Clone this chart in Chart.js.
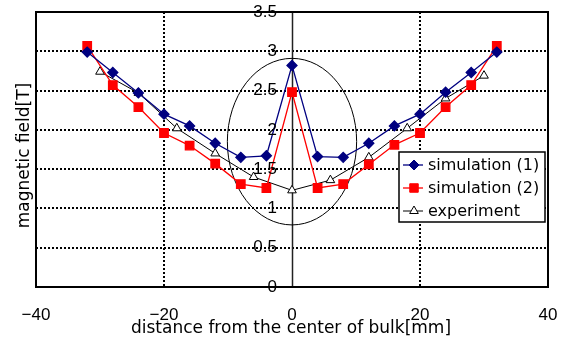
<!DOCTYPE html>
<html>
<head>
<meta charset="utf-8">
<script src="https://cdn.jsdelivr.net/npm/chart.js@4.4.0/dist/chart.umd.min.js"></script>
<style>
  html, body { margin: 0; padding: 0; background: #fff; }
  #wrap { width: 567px; height: 343px; }
</style>
</head>
<body>
<div id="wrap"><canvas id="fieldChart" width="567" height="343"></canvas></div>
<script>
// positions [mm] and field values [T]
const simX = [-32, -28, -24, -20, -16, -12, -8, -4, 0, 4, 8, 12, 16, 20, 24, 28, 32];
const sim1 = [2.99, 2.73, 2.47, 2.20, 2.05, 1.83, 1.65, 1.67, 2.82, 1.66, 1.65, 1.83, 2.05, 2.20, 2.48, 2.73, 2.99];
const sim2 = [3.07, 2.57, 2.29, 1.96, 1.80, 1.57, 1.31, 1.26, 2.48, 1.26, 1.31, 1.56, 1.81, 1.96, 2.29, 2.57, 3.07];
const expX = [-30, -24, -18, -12, -6, 0, 6, 12, 18, 24, 30];
const expVals = [2.74, 2.47, 2.02, 1.70, 1.40, 1.23, 1.36, 1.65, 2.02, 2.40, 2.69];

const xTicks = [-40, -20, 0, 20, 40];
const yTicks = [0, 0.5, 1, 1.5, 2, 2.5, 3, 3.5];
const xTitle = 'distance from the center of bulk[mm]';
const yTitle = 'magnetic field[T]';

// ellipse drawn round the centre peak (data units)
const ringCenter = [0, 1.85];
const ringRadius = [10.1, 1.06];

function toPoints(xs, ys) {
    return xs.map((x, i) => ({ x: x, y: ys[i] }));
}

// frame, zero line, ellipse, tick labels, titles and the legend box
const decorations = {
    id: 'decorations',
    beforeDatasetsDraw(chart) {
        const ctx = chart.ctx;
        const a = chart.chartArea;
        const sx = chart.scales.x, sy = chart.scales.y;
        ctx.save();
        // vertical line at x = 0
        const x0 = Math.round(sx.getPixelForValue(0)) + 0.5;
        ctx.strokeStyle = '#222';
        ctx.lineWidth = 1.5;
        ctx.beginPath();
        ctx.moveTo(x0, a.top);
        ctx.lineTo(x0, a.bottom);
        ctx.stroke();
        // ellipse
        const cx = sx.getPixelForValue(ringCenter[0]);
        const cy = sy.getPixelForValue(ringCenter[1]);
        const rx = Math.abs(sx.getPixelForValue(ringCenter[0] + ringRadius[0]) - cx);
        const ry = Math.abs(sy.getPixelForValue(ringCenter[1] + ringRadius[1]) - cy);
        ctx.strokeStyle = '#000';
        ctx.lineWidth = 1;
        ctx.beginPath();
        ctx.ellipse(cx, cy, rx, ry, 0, 0, Math.PI * 2);
        ctx.stroke();
        // frame
        ctx.lineWidth = 2;
        ctx.strokeRect(a.left, a.top, a.right - a.left, a.bottom - a.top);
        ctx.restore();
    },
    afterDatasetsDraw(chart) {
        const ctx = chart.ctx;
        const a = chart.chartArea;
        const sx = chart.scales.x, sy = chart.scales.y;
        ctx.save();
        ctx.fillStyle = '#000';
        ctx.textBaseline = 'middle';

        // y tick labels sit left of the x = 0 line
        const x0 = sx.getPixelForValue(0);
        ctx.font = '17px "Liberation Sans"';
        ctx.textAlign = 'right';
        yTicks.forEach(v => {
            ctx.fillText(String(v), x0 - 15, sy.getPixelForValue(v));
        });
        // x tick labels under the frame
        ctx.textAlign = 'center';
        xTicks.forEach(v => {
            const txt = v < 0 ? '\u2212' + Math.abs(v) : String(v);
            ctx.fillText(txt, sx.getPixelForValue(v), a.bottom + 28);
        });

        // axis titles
        ctx.font = '17px "DejaVu Sans"';
        ctx.fillText(xTitle, (a.left + a.right) / 2 - 1, a.bottom + 42);
        ctx.save();
        ctx.translate(a.left - 11, (a.top + a.bottom) / 2 + 6);
        ctx.rotate(-Math.PI / 2);
        ctx.fillText(yTitle, 0, 0);
        ctx.restore();

        // legend
        const boxW = 146, boxH = 70;
        const bx = a.right - 3 - boxW, by = a.top + 140;
        ctx.fillStyle = '#fff';
        ctx.fillRect(bx, by, boxW, boxH);
        ctx.strokeStyle = '#000';
        ctx.lineWidth = 1.5;
        ctx.strokeRect(bx, by, boxW, boxH);
        ctx.font = '16px "DejaVu Sans"';
        ctx.textAlign = 'left';
        chart.data.datasets.forEach((ds, i) => {
            const y = by + 13 + i * 23;
            ctx.strokeStyle = ds.borderColor;
            ctx.lineWidth = ds.borderWidth;
            ctx.beginPath();
            ctx.moveTo(bx + 4, y);
            ctx.lineTo(bx + 24, y);
            ctx.stroke();
            ctx.fillStyle = ds.pointBackgroundColor;
            ctx.strokeStyle = ds.pointBorderColor;
            ctx.lineWidth = 1;
            Chart.helpers.drawPoint(ctx, {
                pointStyle: ds.pointStyle,
                radius: ds.pointRadius,
                borderWidth: 1,
                rotation: 0
            }, bx + 15, y);
            ctx.fillStyle = '#000';
            ctx.fillText(ds.label, bx + 29, y + 1);
        });
        ctx.restore();
    }
};

const ctx = document.getElementById('fieldChart').getContext('2d');
const fieldChart = new Chart(ctx, {
    type: 'line',
    data: {
        datasets: [{
            label: 'simulation (1)',
            data: toPoints(simX, sim1),
            borderColor: '#000080',
            borderWidth: 1.3,
            pointStyle: 'rectRot',
            pointRadius: 5,
            pointBackgroundColor: '#000080',
            pointBorderColor: '#000080',
            tension: 0
        }, {
            label: 'simulation (2)',
            data: toPoints(simX, sim2),
            borderColor: '#ff0000',
            borderWidth: 1.3,
            pointStyle: 'rect',
            pointRadius: 6,
            pointBackgroundColor: '#ff0000',
            pointBorderColor: '#ff0000',
            tension: 0
        }, {
            label: 'experiment',
            data: toPoints(expX, expVals),
            borderColor: '#000',
            borderWidth: 1,
            pointStyle: 'triangle',
            pointRadius: 5,
            pointBackgroundColor: '#fff',
            pointBorderColor: '#000',
            pointBorderWidth: 1,
            tension: 0
        }]
    },
    options: {
        responsive: false,
        animation: false,
        devicePixelRatio: 1,
        layout: { padding: { left: 36, top: 12, right: 19, bottom: 56 } },
        plugins: {
            legend: { display: false },
            tooltip: { enabled: false }
        },
        scales: {
            x: {
                type: 'linear',
                min: -40,
                max: 40,
                afterBuildTicks: scale => { scale.ticks = xTicks.map(v => ({ value: v })); },
                ticks: { display: false },
                grid: {
                    drawTicks: false,
                    lineWidth: 2,
                    color: c => (c.tick && (c.tick.value === -20 || c.tick.value === 20)) ? '#000' : 'rgba(0,0,0,0)'
                },
                border: { display: false, dash: [2, 2] }
            },
            y: {
                min: 0,
                max: 3.5,
                afterBuildTicks: scale => { scale.ticks = yTicks.map(v => ({ value: v })); },
                ticks: { display: false },
                grid: {
                    drawTicks: false,
                    lineWidth: 2,
                    color: c => (c.tick && c.tick.value > 0 && c.tick.value < 3.5) ? '#000' : 'rgba(0,0,0,0)'
                },
                border: { display: false, dash: [2, 2] }
            }
        }
    },
    plugins: [decorations]
});
</script>
</body>
</html>
